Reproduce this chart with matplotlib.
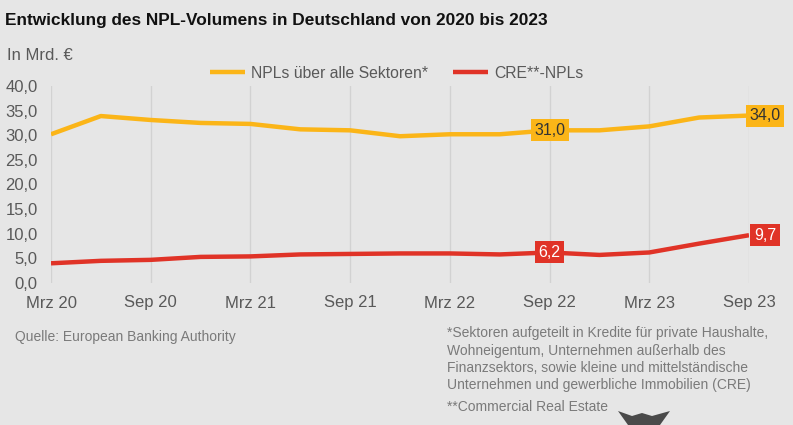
import matplotlib
matplotlib.use("Agg")
import matplotlib.pyplot as plt
from matplotlib.patches import Polygon

plt.rcParams['font.family'] = ['Liberation Sans', 'DejaVu Sans']

quarters = ["Mrz 20", "Jun 20", "Sep 20", "Dez 20", "Mrz 21", "Jun 21", "Sep 21", "Dez 21",
            "Mrz 22", "Jun 22", "Sep 22", "Dez 22", "Mrz 23", "Jun 23", "Sep 23"]
npl_all = [30.2, 33.9, 33.1, 32.5, 32.3, 31.2, 31.0, 29.8, 30.2, 30.2, 31.0, 31.0, 31.8, 33.6, 34.0]
npl_cre = [4.0, 4.5, 4.7, 5.3, 5.4, 5.8, 5.9, 6.0, 6.0, 5.8, 6.2, 5.7, 6.2, 8.0, 9.7]
label_idx = [10, 14]
yticks = [0, 5, 10, 15, 20, 25, 30, 35, 40]

BG = "#e6e6e6"
YEL = "#fbb518"
RED = "#e03327"
GRAY = "#595959"
FOOT = "#7a7a7a"

W, H = 793, 425
fig = plt.figure(figsize=(W / 100, H / 100), dpi=100, facecolor=BG)
ax = fig.add_axes([51 / W, 1 - 283 / H, (749 - 51) / W, (283 - 86) / H], facecolor=BG)

x = list(range(len(quarters)))
ax.plot(x, npl_all, color=YEL, lw=3.2, solid_capstyle='butt', zorder=3, label="NPLs über alle Sektoren*")
ax.plot(x, npl_cre, color=RED, lw=3.2, solid_capstyle='butt', zorder=3, label="CRE**-NPLs")

ax.set_xlim(0, len(quarters) - 1)
ax.set_ylim(0, 40)
tick_pos = x[::2]
ax.set_xticks(tick_pos)
ax.set_xticklabels([quarters[i] for i in tick_pos], fontsize=12, color=GRAY)
ax.set_yticks(yticks)
ax.set_yticklabels([f"{v:.1f}".replace(".", ",") for v in yticks], fontsize=12, color=GRAY)
ax.tick_params(length=0, axis='y', pad=9.5)
ax.tick_params(length=0, axis='x', pad=9)
for s in ax.spines.values():
    s.set_visible(False)
ax.grid(axis='x', color="#d2d2d2", lw=1)
ax.grid(axis='y', visible=False)

def fmt(v):
    return f"{v:.1f}".replace(".", ",")

# data labels
for i in label_idx:
    for series, col, tcol in ((npl_all, YEL, "#333333"), (npl_cre, RED, "white")):
        dx = 0 if i != x[-1] else 16
        ax.annotate(fmt(series[i]), (i, series[i]), xytext=(dx, 0), textcoords='offset pixels',
                    ha='center', va='center', fontsize=11.5, color=tcol, zorder=5,
                    annotation_clip=False,
                    bbox=dict(boxstyle='square,pad=0.22', fc=col, ec='none'))

leg = fig.legend(loc='center', bbox_to_anchor=(397 / W, 1 - 73 / H), ncol=2, frameon=False,
                 fontsize=11.3, handlelength=2.2, handletextpad=0.4, columnspacing=1.6,
                 labelcolor=GRAY)

fig.text(5 / W, 1 - 20 / H, "Entwicklung des NPL-Volumens in Deutschland von 2020 bis 2023",
         fontsize=12.4, fontweight='bold', color="#111111", va='center', ha='left')
fig.text(7 / W, 1 - 55 / H, "In Mrd. €", fontsize=12, color=GRAY, va='center', ha='left')
fig.text(15 / W, 1 - 337 / H, "Quelle: European Banking Authority", fontsize=10,
         color=FOOT, va='center', ha='left')
foot = ["*Sektoren aufgeteilt in Kredite für private Haushalte,",
        "Wohneigentum, Unternehmen außerhalb des",
        "Finanzsektors, sowie kleine und mittelständische",
        "Unternehmen und gewerbliche Immobilien (CRE)"]
for k, line in enumerate(foot):
    fig.text(447 / W, 1 - (333 + 17.5 * k) / H, line, fontsize=10, color=FOOT,
             va='center', ha='left')
fig.text(447 / W, 1 - 407 / H, "**Commercial Real Estate", fontsize=10, color=FOOT,
         va='center', ha='left')

# partial logo at bottom
pts = [(618, 411), (632, 416), (642, 413), (652, 416), (670, 411), (660, 425), (628, 425)]
fig.patches.append(Polygon([(px / W, 1 - py / H) for px, py in pts], closed=True,
                           transform=fig.transFigure, fc="#4a4a4a", ec='none'))

fig.savefig("out.png", dpi=100, facecolor=BG)
